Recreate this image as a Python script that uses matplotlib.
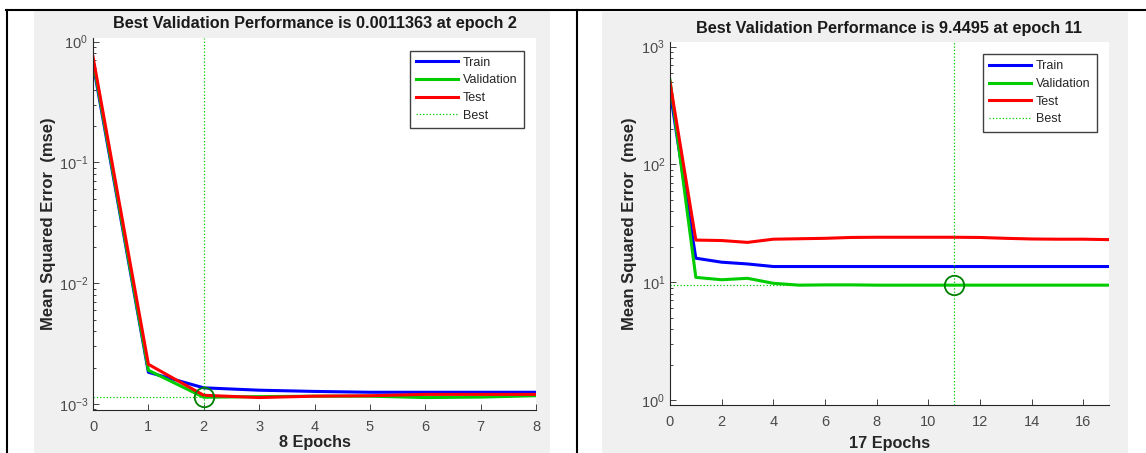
import numpy as np
import matplotlib.pyplot as plt
from matplotlib.lines import Line2D
from matplotlib.patches import Rectangle

plt.rcParams['font.family'] = ['Liberation Sans', 'DejaVu Sans']
plt.rcParams['mathtext.fontset'] = 'custom'
plt.rcParams['mathtext.rm'] = 'Liberation Sans'

# left run: 8 epochs
epochs1 = [0, 1, 2, 3, 4, 5, 6, 7, 8]
train1 = [0.66, 0.00183, 0.00136, 0.00130, 0.00127, 0.00125, 0.00125, 0.00125, 0.00125]
valid1 = [0.70, 0.00190, 0.0011363, 0.00115, 0.00116, 0.00116, 0.00113, 0.00114, 0.00117]
test1 = [0.75, 0.00213, 0.00118, 0.00113, 0.00116, 0.00117, 0.00120, 0.00120, 0.00120]
best1 = 2
title1 = 'Best Validation Performance is 0.0011363 at epoch 2'

# right run: 17 epochs
epochs2 = list(range(18))
train2 = [420, 16.0, 14.8, 14.3, 13.6, 13.6, 13.6, 13.6, 13.6, 13.6, 13.6, 13.6, 13.6, 13.6, 13.6, 13.6, 13.6, 13.6]
valid2 = [520, 11.0, 10.5, 10.8, 9.8, 9.45, 9.5, 9.5, 9.45, 9.45, 9.45, 9.4495, 9.45, 9.45, 9.45, 9.45, 9.45, 9.45]
test2 = [500, 22.8, 22.6, 21.8, 23.2, 23.4, 23.6, 24.0, 24.1, 24.1, 24.1, 24.1, 24.0, 23.6, 23.3, 23.2, 23.2, 23.0]
best2 = 11
title2 = 'Best Validation Performance is 9.4495 at epoch 11'

W, H = 1146, 453
fig = plt.figure(figsize=(W / 100, H / 100), dpi=100)

def px(x0, y0, x1, y1):
    # pixel box -> figure fraction [left, bottom, width, height]
    return [x0 / W, 1 - y1 / H, (x1 - x0) / W, (y1 - y0) / H]

# gray figure panels
for x0, y0, x1 in [(34, 11, 550), (602, 12, 1128)]:
    b = px(x0, y0, x1, H)
    fig.add_artist(Rectangle((b[0], b[1]), b[2], b[3], transform=fig.transFigure,
                             facecolor='#f0f0f0', edgecolor='none', zorder=0))

# table borders
lw_b = 1.5
fig.add_artist(Line2D([6 / W, 1], [1 - 10 / H] * 2, color='black', lw=lw_b))
fig.add_artist(Line2D([7 / W] * 2, [0, 1 - 10 / H], color='black', lw=lw_b))
fig.add_artist(Line2D([577 / W] * 2, [0, 1 - 10 / H], color='black', lw=lw_b))

tc = '#4a4a4a'

def panel(box, ep, tr, va, te, best, title, ylim, xticks, xlab, tpad, ylx, xlpad):
    ax = fig.add_axes(box)
    ax.plot(ep, tr, color=(0, 0, 1), lw=2.2, label='Train')
    ax.plot(ep, va, color=(0, 0.8, 0), lw=2.2, label='Validation')
    ax.plot(ep, te, color=(1, 0, 0), lw=2.2, label='Test')
    bv = va[ep.index(best)]
    ax.plot([best, best], ylim, ':', color=(0, 0.8, 0), lw=0.9, label='Best')
    ax.plot([0, best], [bv, bv], ':', color=(0, 0.8, 0), lw=0.9)
    ax.plot(best, bv, 'o', mfc='none', mec=(0, 0.5, 0), ms=14, mew=1.3)
    ax.set_yscale('log')
    ax.set_ylim(ylim)
    ax.set_xlim(ep[0], ep[-1])
    ax.set_xticks(xticks)
    for s in ['top', 'right']:
        ax.spines[s].set_visible(False)
    for s in ['left', 'bottom']:
        ax.spines[s].set_color('#262626')
        ax.spines[s].set_linewidth(0.8)
    ax.tick_params(which='both', direction='in', colors='#262626', labelcolor=tc,
                   labelsize=10.5, width=0.6)
    ax.tick_params(which='major', length=4)
    ax.tick_params(which='minor', length=2)
    ax.tick_params(axis='x', pad=7)
    ax.set_title(title, fontsize=11.7, fontweight='bold', color='#1a1a1a', pad=tpad)
    ax.set_xlabel(xlab, fontsize=11.7, fontweight='bold', color='#262626', labelpad=xlpad)
    ax.set_ylabel('Mean Squared Error  (mse)', fontsize=12, fontweight='bold',
                  color='#262626')
    ax.yaxis.set_label_coords(ylx, 0.5)
    leg = ax.legend(loc='upper right', fontsize=9, fancybox=False, framealpha=1,
                    edgecolor='#404040', handlelength=3.3, borderaxespad=1.0,
                    labelspacing=0.45, handletextpad=0.4, borderpad=0.5)
    leg.get_frame().set_linewidth(1.0)
    for t in leg.get_texts():
        t.set_color('#262626')
    return ax

panel(px(93, 38, 536, 410), epochs1, train1, valid1, test1, best1, title1,
      (10 ** -3.05, 10 ** 0.03), range(0, 9), '8 Epochs', 7, -0.083, 1)
panel(px(670, 41.7, 1109, 405), epochs2, train2, valid2, test2, best2, title2,
      (10 ** -0.042, 10 ** 3.042), range(0, 17, 2), '17 Epochs', 6, -0.075, 5)

plt.savefig('out.png', dpi=100)
